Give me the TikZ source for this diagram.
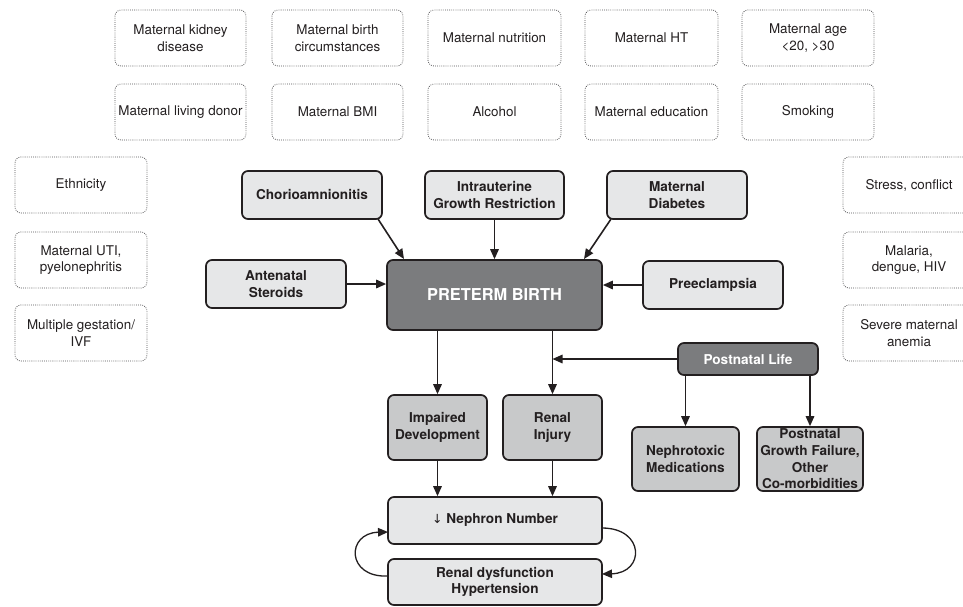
\documentclass[tikz,border=0pt]{standalone}
\usepackage{fontspec}
\setmainfont{TeX Gyre Heros}
\usetikzlibrary{arrows.meta}
\definecolor{lightbox}{HTML}{E6E7E8}
\definecolor{midbox}{HTML}{C8C9CA}
\definecolor{darkbox}{HTML}{7B7C7E}
\definecolor{edge}{HTML}{231F20}
\definecolor{dotline}{HTML}{4D4D4F}
\tikzset{
  x=1pt, y=-1pt,
  plain/.style={draw=dotline, line width=0.8pt, dash pattern=on 0.8pt off 1.3pt, rounded corners=6pt, align=center,
    font=\fontsize{13.4}{16.7}\selectfont, text=edge, inner sep=0pt},
  solidbox/.style={draw=edge, line width=1.7pt, rounded corners=6pt, align=center,
    font=\fontsize{13.6}{16.7}\selectfont\bfseries, inner sep=0pt},
  lightb/.style={solidbox, fill=lightbox, text=edge},
  midb/.style={solidbox, fill=midbox, text=edge},
  darkb/.style={solidbox, fill=darkbox, text=white},
  arr/.style={draw=edge, line width=1.6pt, -{Triangle[length=10pt,width=8.5pt]}},
  looparr/.style={draw=edge, line width=1.3pt, -{Triangle[length=10pt,width=8.5pt]}},
}
\newcommand{\bx}[7]{% name, style, x1, y1, x2, y2, text
  \node[#2, minimum width={#5-#3}, minimum height={#6-#4}] (#1) at ({(#3+#5)/2},{(#4+#6)/2}) {#7};}
\begin{document}
\begin{tikzpicture}
\useasboundingbox (0,0) rectangle (963,606);
% top dotted rows
\bx{t1}{plain}{115}{10}{246}{66}{Maternal kidney\\disease}
\bx{t2}{plain}{272}{10}{403}{66}{Maternal birth\\circumstances}
\bx{t3}{plain}{428}{10}{561}{66}{Maternal nutrition}
\bx{t4}{plain}{585}{10}{718}{66}{Maternal HT}
\bx{t5}{plain}{742}{10}{874}{66}{Maternal age\\\textless 20, \textgreater 30}
\bx{u1}{plain}{115}{84}{246}{140}{Maternal living donor}
\bx{u2}{plain}{272}{84}{403}{140}{Maternal BMI}
\bx{u3}{plain}{428}{84}{561}{140}{Alcohol}
\bx{u4}{plain}{585}{84}{718}{140}{Maternal education}
\bx{u5}{plain}{742}{84}{874}{140}{Smoking}
% left column
\bx{l1}{plain}{15}{157}{147}{213}{Ethnicity}
\bx{l2}{plain}{15}{232}{147}{288}{Maternal UTI,\\pyelonephritis}
\bx{l3}{plain}{15}{305}{147}{361}{Multiple gestation/\\IVF}
% right column (cut by the edge)
\bx{r1}{plain}{843}{157}{975}{213}{Stress, conflict}
\bx{r2}{plain}{843}{232}{975}{288}{Malaria,\\dengue, HIV}
\bx{r3}{plain}{843}{305}{975}{361}{Severe maternal\\anemia}
% central boxes
\bx{cho}{lightb}{242}{171}{382}{219}{Chorioamnionitis}
\bx{iugr}{lightb}{425}{171}{564}{219}{Intrauterine\\Growth Restriction}
\bx{diab}{lightb}{607}{171}{747}{219}{Maternal\\Diabetes}
\bx{ster}{lightb}{206}{260}{346}{308}{Antenatal\\Steroids}
\bx{pb}{darkb, font=\fontsize{16.4}{19}\selectfont\bfseries}{387}{260}{602}{330}{PRETERM BIRTH}
\bx{pre}{lightb}{643}{261}{783}{309}{Preeclampsia}
\bx{pl}{darkb}{678}{343}{818}{375}{Postnatal Life}
\bx{imp}{midb}{388}{395}{487}{460}{Impaired\\Development}
\bx{inj}{midb}{503}{395}{602}{460}{Renal\\Injury}
\bx{nep}{midb}{632}{427}{739}{491}{Nephrotoxic\\Medications}
\bx{pgf}{midb}{757}{427}{863}{491}{Postnatal\\Growth Failure,\\Other\\Co-morbidities}
\bx{nn}{lightb}{388}{497}{602}{544}{{\fontspec{DejaVu Sans}\mdseries\fontsize{12.5}{14}\selectfont ↓} Nephron Number}
\bx{rd}{lightb}{388}{559}{602}{605}{Renal dysfunction\\Hypertension}
% connectors
\coordinate (choS) at (378,219);
\coordinate (pbChoIn) at (404,259);
\draw[arr] (choS) -- (pbChoIn);
\draw[arr] (iugr.south) -- (iugr.south |- pb.north);
\coordinate (diaS) at (611,219);
\coordinate (pbDiaIn) at (584,259);
\draw[arr] (diaS) -- (pbDiaIn);
\draw[arr] (ster.east) -- (ster.east -| pb.west);
\draw[arr] (pre.west) -- (pre.west -| pb.east);
\draw[arr] (pb.south -| imp.north) -- (imp.north);
\draw[arr] (pb.south -| inj.north) -- (inj.north);
\coordinate (plJoin) at (inj.north |- pl.west);
\draw[arr] (pl.west) -- (plJoin);
\draw[arr] (pl.south -| nep.north) -- (nep.north);
\draw[arr] (pl.south -| pgf.north) -- (pgf.north);
\draw[arr] (imp.south) -- (imp.south |- nn.north);
\draw[arr] (inj.south) -- (inj.south |- nn.north);
\coordinate (rdL) at (388,576);
\coordinate (nnL) at (388,532);
\draw[looparr] (rdL) .. controls (346,578) and (346,533) .. (nnL);
\coordinate (nnR) at (602,528);
\coordinate (rdR) at (602,574);
\draw[looparr] (nnR) .. controls (645,528) and (645,573) .. (rdR);
\end{tikzpicture}
\end{document}
